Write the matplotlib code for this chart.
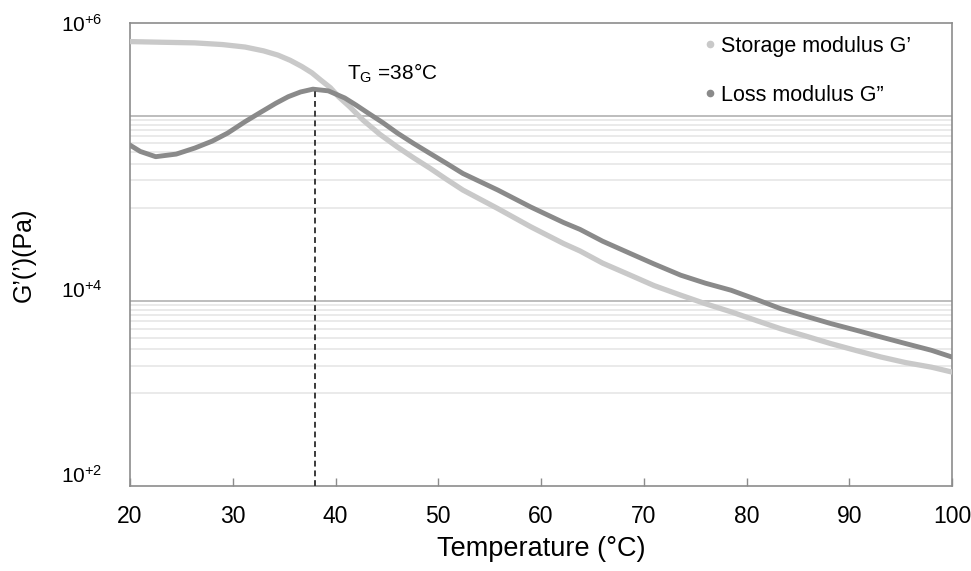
import matplotlib
matplotlib.use('Agg')
import matplotlib.pyplot as plt
from matplotlib.lines import Line2D
from matplotlib.ticker import NullLocator

plt.rcParams['font.family'] = ['Liberation Sans', 'DejaVu Sans']
plt.rcParams['mathtext.fontset'] = 'custom'
plt.rcParams['mathtext.rm'] = 'Liberation Sans'
plt.rcParams['mathtext.default'] = 'regular'

# Storage modulus G' (Pa) vs temperature (°C)
temp_storage = [20.0, 23.0, 26.3, 29.0, 31.2, 33.0, 34.4, 35.6, 36.7, 37.7, 38.6, 39.5, 40.3,
                41.4, 42.7, 44.3, 46.0, 47.6, 49.2, 50.8, 52.4, 55.8, 59.0, 62.2, 63.8, 66.0,
                68.7, 71.0, 73.6, 76.0, 78.5, 81.0, 83.3, 85.8, 88.2, 90.7, 93.1, 95.5, 98.0, 100.0]
g_storage = [6.3e5, 6.2e5, 6.1e5, 5.85e5, 5.5e5, 5.0e5, 4.5e5, 3.95e5, 3.4e5, 2.9e5, 2.4e5, 2.0e5,
             1.6e5, 1.24e5, 8.9e4, 6.3e4, 4.6e4, 3.5e4, 2.7e4, 2.05e4, 1.57e4, 9.9e3, 6.3e3,
             4.15e3, 3.45e3, 2.55e3, 1.89e3, 1.46e3, 1.15e3, 930, 760, 610, 500, 415, 345, 290,
             247, 215, 192, 170]

# Loss modulus G'' (Pa) vs temperature (°C)
temp_loss = [20.0, 21.0, 22.5, 24.5, 26.3, 28.0, 29.5, 31.2, 32.8, 34.2, 35.4, 36.6, 37.8, 39.3,
             40.9, 42.0, 43.2, 44.6, 46.0, 47.6, 49.2, 50.8, 52.4, 55.8, 59.0, 62.2, 63.8, 66.0,
             68.7, 71.0, 73.6, 76.0, 78.5, 81.0, 83.3, 85.8, 88.2, 90.7, 93.1, 95.5, 98.0, 100.0]
g_loss = [4.8e4, 4.1e4, 3.6e4, 3.84e4, 4.46e4, 5.3e4, 6.47e4, 8.6e4, 1.10e5, 1.36e5, 1.60e5,
          1.80e5, 1.93e5, 1.85e5, 1.55e5, 1.30e5, 1.06e5, 8.4e4, 6.5e4, 5.0e4, 3.9e4, 3.05e4,
          2.37e4, 1.57e4, 1.03e4, 7.0e3, 5.9e3, 4.4e3, 3.24e3, 2.5e3, 1.89e3, 1.55e3, 1.30e3,
          1.03e3, 824, 680, 568, 480, 406, 345, 292, 247]

t_gel = 38
x_ticks = [20, 30, 40, 50, 60, 70, 80, 90, 100]
y_tick_labels = ['$10^{+6}$', '$10^{+4}$', '$10^{+2}$']

# gridlines of the original (Excel style)
major_grid = [1e5, 1e3]
minor_grid = [k * 1e4 for k in range(1, 10)] + [k * 1e2 for k in range(1, 10)]

light = '#c9c9c9'
dark = '#8a8a8a'

fig = plt.figure(figsize=(9.71, 5.71), dpi=100)
ax = fig.add_axes([130 / 971, 1 - 486 / 571, 822 / 971, 463 / 571])
ax.set_yscale('log')
ax.set_xlim(20, 100)
ax.set_ylim(1e1, 1e6)

for v in minor_grid:
    ax.axhline(v, color='#e4e4e4', lw=1.1, zorder=0)
for v in major_grid:
    ax.axhline(v, color='#bdbdbd', lw=1.4, zorder=0)

ax.plot(temp_storage, g_storage, color=light, lw=3.8, solid_capstyle='round', zorder=3)
ax.plot(temp_loss, g_loss, color=dark, lw=3.5, solid_capstyle='round', zorder=4)

# dashed line at the G'' peak
peak = max(g_loss)
ax.vlines(t_gel, 1e1, peak, colors='#3a3a3a', linestyles=(0, (3, 2)), lw=1.4, zorder=5)
ax.text(41.1, 2.42e5, r'T$_{G}$ =38°C', fontsize=15, va='baseline', ha='left')

# axes styling
for s in ax.spines.values():
    s.set_color('#8c8c8c')
    s.set_linewidth(1.2)
ax.set_xticks(x_ticks)
ax.tick_params(axis='x', direction='in', length=6, width=1, color='#8c8c8c',
               labelsize=16.5, pad=14)
ax.set_yticks([1e6, 1330, 13.5])
ax.set_yticklabels(y_tick_labels, fontsize=15)
ax.yaxis.set_minor_locator(NullLocator())
ax.tick_params(axis='y', length=0, pad=20)

ax.set_xlabel('Temperature (°C)', fontsize=19.5)
ax.xaxis.set_label_coords(0.5, -0.108)
ax.set_ylabel("G\u2019(\u2019)(Pa)", fontsize=18)
ax.yaxis.set_label_coords(-0.115, 0.5)

handles = [Line2D([], [], ls='none', marker='o', ms=4.5, color=light, mec=light),
           Line2D([], [], ls='none', marker='o', ms=4.5, color=dark, mec=dark)]
ax.legend(handles, ['Storage modulus G\u2019', 'Loss modulus G\u201d'], loc='upper left',
          bbox_to_anchor=(704 / 971, 1 - 36 / 571), bbox_transform=fig.transFigure,
          frameon=False, fontsize=15.5, borderpad=0, borderaxespad=0,
          handlelength=0.6, handletextpad=0.2, labelspacing=1.3)

fig.savefig('out.png', dpi=100)
